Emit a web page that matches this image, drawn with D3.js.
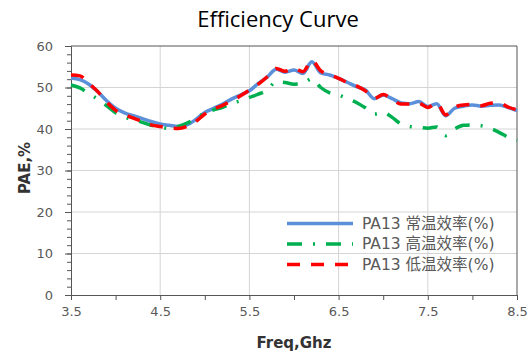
<!DOCTYPE html>
<html>
<head>
<meta charset="utf-8">
<script src="https://cdn.jsdelivr.net/npm/d3@7"></script>
<style>
  body { margin: 0; background: #fff; }
</style>
</head>
<body>
<div id="plot"></div>
<script>
// Data (frequency step 0.1 GHz)
var freqs = d3.range(35, 86).map(function(d) { return d / 10; });
var xTicks = [3.5, 4.5, 5.5, 6.5, 7.5, 8.5];
var yTicks = [0, 10, 20, 30, 40, 50, 60];
var seriesNames = ["PA13 常温效率(%)", "PA13 高温效率(%)", "PA13 低温效率(%)"];

var roomTemp = [52.3, 51.9, 50.8, 49.0, 46.8, 45.0, 43.9, 43.2, 42.5, 41.8,
                41.2, 40.9, 40.6, 41.0, 42.3, 44.0, 45.0, 46.0, 47.2, 48.2,
                49.2, 51.0, 52.5, 54.4, 53.7, 54.2, 53.4, 56.2, 53.5, 53.0,
                52.2, 51.2, 50.2, 49.4, 47.3, 48.2, 47.3, 46.3, 46.1, 46.6,
                45.4, 46.1, 43.2, 45.0, 45.5, 45.8, 45.5, 45.7, 45.8, 45.2, 44.4];
var highTemp = [50.6, 49.9, 48.5, 47.2, 45.6, 43.9, 42.9, 42.2, 41.6, 40.9,
                40.5, 40.1, 40.6, 41.4, 42.6, 43.8, 44.6, 45.2, 46.2, 46.8,
                47.6, 48.4, 49.4, 51.4, 51.2, 50.8, 51.0, 52.1, 50.0, 48.7,
                48.2, 47.3, 46.4, 45.1, 43.6, 44.0, 42.8, 41.2, 40.6, 40.4,
                40.2, 40.5, 38.4, 40.0, 40.9, 41.0, 40.8, 40.2, 39.2, 38.0, 37.2];
var lowTemp = [53.0, 52.8, 51.0, 49.0, 46.5, 44.5, 43.5, 42.6, 41.8, 41.0,
               40.6, 40.3, 40.1, 40.6, 41.8, 43.6, 44.8, 45.7, 46.8, 48.0,
               49.4, 50.8, 52.6, 54.6, 53.9, 54.6, 53.8, 56.5, 54.0, 53.1,
               52.2, 51.2, 50.4, 49.2, 47.4, 48.3, 47.2, 46.0, 46.0, 46.2,
               45.2, 46.3, 43.4, 45.2, 45.8, 45.9, 45.6, 46.2, 46.3, 45.3, 44.6];

var styles = [
    {color: "#5b8fd9", dash: null},
    {color: "#00b050", dash: "15,11,2,11"},
    {color: "#ff0000", dash: "13,11"}
];
var seriesValues = [roomTemp, highTemp, lowTemp];

// Dimensions
var margin = {top: 46, right: 13, bottom: 64, left: 71},
    width = 530 - margin.left - margin.right,
    height = 359 - margin.top - margin.bottom;

var root = d3.select("#plot")
    .append("svg")
        .attr("width", 530)
        .attr("height", 359);

var svg = root.append("g")
    .attr("transform", "translate(" + margin.left + "," + margin.top + ")");

// Title
root.append("text")
    .attr("x", 278)
    .attr("y", 27)
    .style("text-anchor", "middle")
    .style("font-family", "'Open Sans', sans-serif")
    .style("font-size", "22px")
    .style("fill", "#000")
    .text("Efficiency Curve");

// Scales
var x = d3.scaleLinear().domain([3.5, 8.5]).range([0, width]);
var y = d3.scaleLinear().domain([0, 60]).range([height, 0]);

// Gridlines
svg.append("g")
    .selectAll("line")
    .data(yTicks.slice(1, -1))
    .enter().append("line")
        .attr("x1", 0).attr("x2", width)
        .attr("y1", function(d) { return y(d); })
        .attr("y2", function(d) { return y(d); })
        .attr("stroke", "#d4d4d4");
svg.append("g")
    .selectAll("line")
    .data(xTicks.slice(1, -1))
    .enter().append("line")
        .attr("y1", 0).attr("y2", height)
        .attr("x1", function(d) { return x(d); })
        .attr("x2", function(d) { return x(d); })
        .attr("stroke", "#d4d4d4");

// Y axis
svg.append("g")
    .call(d3.axisLeft(y).tickValues(yTicks).tickSize(6).tickPadding(12));
svg.append("g")
    .call(d3.axisLeft(y).tickValues(d3.range(0, 61, 2)).tickSize(4).tickFormat(""))
    .select(".domain").remove();

// X axis
svg.append("g")
    .attr("transform", "translate(0," + height + ")")
    .call(d3.axisBottom(x).tickValues(xTicks).tickSize(5).tickPadding(7).tickFormat(d3.format(".1f")));
svg.append("g")
    .attr("transform", "translate(0," + height + ")")
    .call(d3.axisBottom(x).tickValues(d3.range(4, 8.5, 1)).tickSize(5).tickFormat(""))
    .select(".domain").remove();

svg.selectAll(".domain, .tick line").attr("stroke", "#555");
svg.selectAll(".tick text")
    .style("font-family", "'DejaVu Sans', sans-serif")
    .style("font-size", "13px")
    .attr("fill", "#595959");

// Plot border (top + right)
svg.append("path")
    .attr("d", "M0,0H" + width + "V" + height)
    .attr("fill", "none")
    .attr("stroke", "#555");

// Axis titles
root.append("text")
    .attr("transform", "rotate(-90)")
    .attr("x", -168)
    .attr("y", 30)
    .style("text-anchor", "middle")
    .style("font-family", "'DejaVu Sans', sans-serif")
    .style("font-weight", "bold")
    .style("font-size", "15px")
    .style("fill", "#333")
    .text("PAE,%");
root.append("text")
    .attr("x", margin.left + width / 2)
    .attr("y", 348)
    .style("text-anchor", "middle")
    .style("font-family", "'DejaVu Sans', sans-serif")
    .style("font-weight", "bold")
    .style("font-size", "15px")
    .style("fill", "#333")
    .text("Freq,Ghz");

// Lines
var line = d3.line()
    .x(function(d, i) { return x(freqs[i]); })
    .y(function(d) { return y(d); })
    .curve(d3.curveMonotoneX);

svg.append("g")
    .selectAll("path")
    .data(seriesValues)
    .enter().append("path")
        .attr("d", line)
        .attr("fill", "none")
        .attr("stroke", function(d, i) { return styles[i].color; })
        .attr("stroke-width", 3.5)
        .attr("stroke-dasharray", function(d, i) { return styles[i].dash; })
        .attr("stroke-linejoin", "round");

// Legend
var legend = root.append("g")
    .selectAll("g")
    .data(seriesNames)
    .enter().append("g")
        .attr("transform", function(d, i) { return "translate(287," + (223.5 + i * 20.5) + ")"; });
legend.append("line")
    .attr("x1", 0).attr("x2", 66)
    .attr("stroke", function(d, i) { return styles[i].color; })
    .attr("stroke-width", 3.5)
    .attr("stroke-dasharray", function(d, i) { return styles[i].dash; });
legend.append("text")
    .attr("x", 75)
    .attr("dy", "0.35em")
    .style("font-family", "'DejaVu Sans', 'Noto Sans CJK SC', sans-serif")
    .style("font-size", "15.5px")
    .style("fill", "#595959")
    .text(function(d) { return d; });
</script>
</body>
</html>
